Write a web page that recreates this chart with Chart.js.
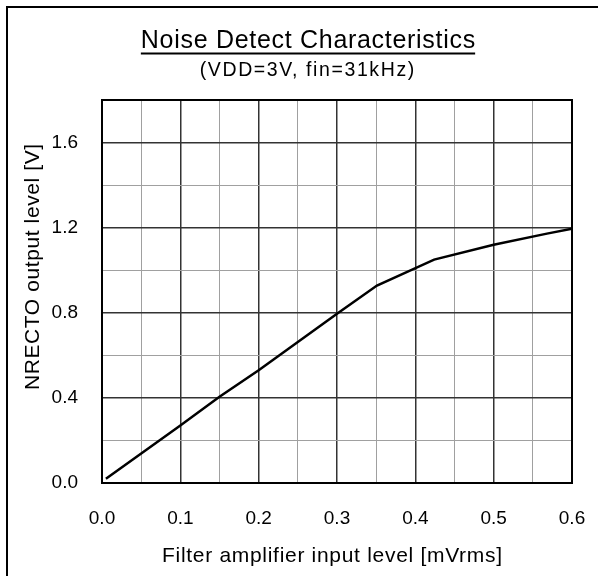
<!DOCTYPE html>
<html>
<head>
<meta charset="utf-8">
<script src="https://cdn.jsdelivr.net/npm/chart.js@4"></script>
<style>
  html, body { margin: 0; padding: 0; background: #fff; }
  #wrap { position: relative; width: 598px; height: 576px; overflow: hidden; }
  #frame { position: absolute; left: 6px; top: 6px; right: -10px; bottom: -10px;
           border-top: 2px solid #000; border-left: 2px solid #000; pointer-events: none; }
  canvas { position: absolute; left: 0; top: 0; }
</style>
</head>
<body>
<div id="wrap">
  <canvas id="grafico" width="598" height="576"></canvas>
  <div id="frame"></div>
</div>
<script>
// datos
const tituloTexto = "Noise Detect Characteristics";
const subtituloTexto = "(VDD=3V, fin=31kHz)";
const ejeXTexto = "Filter amplifier input level [mVrms]";
const ejeYTexto = "NRECTO output level [V]";

const entradaX = [0.005, 0.10, 0.15, 0.20, 0.30, 0.351, 0.424, 0.50, 0.568, 0.60];
const salidaY  = [0.02, 0.27, 0.405, 0.53, 0.795, 0.928, 1.05, 1.12, 1.172, 1.195];

const xMin = 0, xMax = 0.6, xPaso = 0.05;
const yMin = 0, yMax = 1.8, yPaso = 0.2;

const fuente = "'Liberation Sans', Arial, sans-serif";

// texto con algo de espaciado entre letras (el original es mas ancho que Liberation Sans)
function texto(ctx, str, x, y, size, spacing, rot) {
  ctx.save();
  ctx.font = size + "px " + fuente;
  ctx.letterSpacing = spacing + "px";
  ctx.textAlign = "center";
  ctx.textBaseline = "middle";
  ctx.translate(x, y);
  if (rot) ctx.rotate(rot);
  // el espaciado se agrega tambien despues de la ultima letra: compensar
  ctx.fillText(str, spacing / 2, 0);
  const w = ctx.measureText(str).width - spacing;
  ctx.restore();
  return w;
}

// titulo subrayado, subtitulo, titulos de ejes y marco del area
const pluginTitulo = {
  id: 'pluginTitulo',
  afterDraw(chart) {
    const ctx = chart.ctx;
    const area = chart.chartArea;
    ctx.save();
    ctx.fillStyle = '#000';
    const w = texto(ctx, tituloTexto, 308, 41, 25, 0.7);
    ctx.fillRect(308 - w / 2, 52.5, w, 2);
    texto(ctx, subtituloTexto, 307, 71, 19.5, 1.6);
    texto(ctx, ejeXTexto, 332, 556, 21, 0.7);
    texto(ctx, ejeYTexto, 33, 267, 21, 0.6, -Math.PI / 2);
    // marco
    ctx.strokeStyle = '#000';
    ctx.lineWidth = 2;
    ctx.strokeRect(area.left, area.top, area.right - area.left, area.bottom - area.top);
    ctx.restore();
  }
};

const esMayorX = v => Math.round(v * 100) % 10 === 0;
const esMayorY = v => Math.round(v * 10) % 4 === 0;

new Chart(document.getElementById("grafico"), {
  type: "line",
  data: {
    datasets: [{
      data: entradaX.map((x, i) => ({ x: x, y: salidaY[i] })),
      borderColor: "#000",
      borderWidth: 2.5,
      pointRadius: 0,
      tension: 0,
      fill: false
    }]
  },
  options: {
    responsive: false,
    animation: false,
    layout: { padding: { top: 100, right: 26, bottom: 0, left: 0 } },
    plugins: { legend: { display: false }, tooltip: { enabled: false }, title: { display: false } },
    scales: {
      x: {
        type: "linear",
        min: xMin, max: xMax,
        afterFit: s => { s.height = 93; s.paddingLeft = 0; s.paddingRight = 0; },
        ticks: {
          stepSize: xPaso,
          padding: 24,
          color: "#000",
          font: { family: fuente, size: 19 },
          maxRotation: 0,
          autoSkip: false,
          callback: v => esMayorX(v) ? v.toFixed(1) : ""
        },
        grid: {
          drawTicks: false,
          color: c => esMayorX(c.tick.value) ? "#333" : "#a0a0a0",
          lineWidth: c => esMayorX(c.tick.value) ? 1.5 : 1
        },
        border: { display: false }
      },
      y: {
        min: yMin, max: yMax,
        afterFit: s => { s.width = 102; s.paddingTop = 0; s.paddingBottom = 0; },
        ticks: {
          stepSize: yPaso,
          padding: 24,
          color: "#000",
          font: { family: fuente, size: 19 },
          autoSkip: false,
          callback: v => esMayorY(v) ? v.toFixed(1) : ""
        },
        grid: {
          drawTicks: false,
          color: c => esMayorY(c.tick.value) ? "#333" : "#a0a0a0",
          lineWidth: c => esMayorY(c.tick.value) ? 1.5 : 1
        },
        border: { display: false }
      }
    }
  },
  plugins: [pluginTitulo]
});
</script>
</body>
</html>
